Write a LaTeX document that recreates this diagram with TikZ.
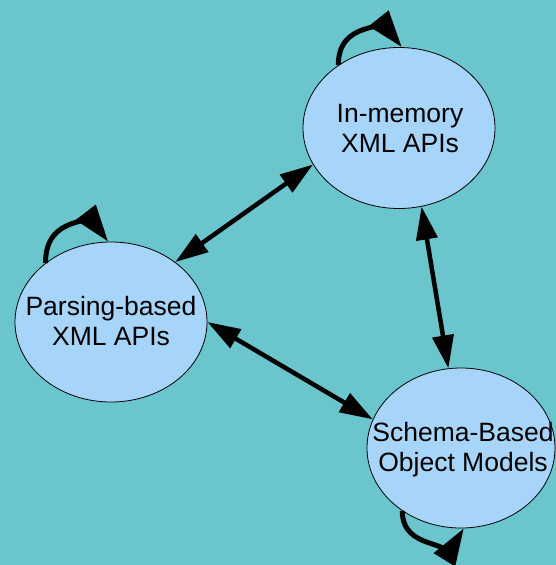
\documentclass[tikz,border=0pt]{standalone}
\usepackage{fontspec}
\setmainfont{Liberation Sans}
\usetikzlibrary{arrows.meta,shapes.geometric}

\definecolor{bgteal}{HTML}{6AC6CC}
\definecolor{bubble}{HTML}{A7D5F9}

\tikzset{
  api/.style={ellipse, draw=black, line width=0.8pt, fill=bubble,
    inner sep=0pt, minimum width=192pt, minimum height=161pt},
  apitext/.style={align=center, inner sep=0pt,
    font=\fontsize{26.5}{30}\selectfont},
  biarrow/.style={line width=4.5pt,
    {Triangle[length=33pt,width=21pt]}-{Triangle[length=33pt,width=21pt]}},
  selfloop/.style={line width=5pt, -{Triangle[length=37pt,width=24pt]}}
}

\begin{document}
\begin{tikzpicture}[x=1pt,y=-1pt]
  % backdrop and page size
  \fill[bgteal] (0,0) rectangle (556,565);
  \useasboundingbox (0,0) rectangle (556,565);

  % the three families of XML APIs
  \node[api] (A) at (399,128) {};
  \node[api, minimum height=160pt] (B) at (111,322) {};
  \node[api, minimum width=188pt, minimum height=160pt] (C) at (461,448) {};

  \node[apitext] (At) at (400,129) {In-memory\\XML APIs};
  \node[apitext] (Bt) at (111,321) {Parsing-based\\XML APIs};
  \node[apitext] (Ct) at (463,450) {Schema-Based\\Object Models};

  % two-way links between the families
  \draw[biarrow] (A.203) -- (B.43);
  \draw[biarrow] (B.east) -- (C.162);
  \draw[biarrow] (A.286) -- (C.99);

  % self loops
  \draw[selfloop] (A.134) .. controls +(0,-46) and +(-12,-15) .. (A.88);
  \draw[selfloop] (B.138) .. controls +(0,-50) and +(-11.5,-15) .. (B.92);
  \draw[selfloop] (C.227) .. controls +(0,41) and +(-6.3,10.2) .. (C.272);
\end{tikzpicture}
\end{document}
